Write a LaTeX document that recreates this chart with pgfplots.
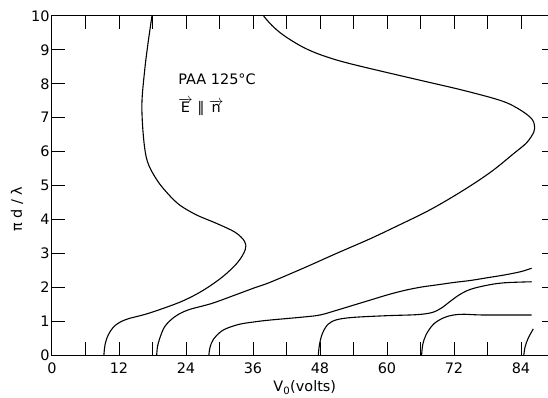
\documentclass[border=0pt]{standalone}
\usepackage{fontspec}
\setmainfont{DejaVu Sans}
\usepackage{pgfplots}
\pgfplotsset{compat=1.18}
\pgfplotsset{curve/.style={black, no markers, line width=1.1bp, smooth, tension=0.55}}
\begin{document}
\begin{tikzpicture}[font=\fontsize{14.5}{17}\selectfont]
\begin{axis}[name=ax, scale only axis, width=502.5bp, height=339bp,
  xmin=0, xmax=90, ymin=0, ymax=10,
  xtick={0,12,24,36,48,60,72,84},
  ytick={0,1,2,3,4,5,6,7,8,9,10},
  tick style={draw=none},
  axis line style={black, line width=1bp},
  /pgf/number format/assume math mode=true,
  xticklabel style={yshift=-4bp},
  yticklabel style={xshift=1bp},
  xlabel={V\textsubscript{0}(volts)},
  ylabel={π d / λ},
  every axis x label/.style={at={(axis description cs:0.503,0)}, anchor=north, yshift=-22bp},
  every axis y label/.style={at={(axis description cs:-0.0697,0.43)}, rotate=90, anchor=center},
]
% curve 1
\addplot[curve] coordinates {(9.3,0) (9.5,0.3) (10.1,0.6) (11.3,0.87) (13.3,1.05) (16.7,1.2) (20,1.38) (23.5,1.6) (27,1.9) (30.5,2.3) (33.2,2.72) (34.6,3.1) (34.5,3.35) (32.8,3.62) (29.5,3.88) (25.9,4.13) (22.9,4.42) (20.8,4.75) (18.8,5.16) (17.1,5.7) (16.4,6.4) (16.1,7.4) (16.6,8.4) (17.2,9.2) (17.9,10)};
% curve 2
\addplot[curve] coordinates {(18.75,0) (18.9,0.25) (19.3,0.49) (20.2,0.84) (22.0,1.13) (24.4,1.33) (28.6,1.52) (32.8,1.77) (36.4,1.99) (39.0,2.14) (45.0,2.56) (51.0,3.0) (57.0,3.43) (62.0,3.82) (67.1,4.23) (71.3,4.62) (75.5,5.05) (79.1,5.46) (82.6,5.93) (85.0,6.26) (86.3,6.58) (86.4,6.78) (86.0,6.95) (84.6,7.15) (82.0,7.4) (79.1,7.57) (73.1,7.83) (67.1,8.06) (61.1,8.29) (55.2,8.52) (51.0,8.7) (47.4,8.9) (44.5,9.12) (41.4,9.44) (39.4,9.72) (37.9,10)};
% curve 3
\addplot[curve] coordinates {(28.1,0) (28.3,0.22) (28.9,0.46) (30.6,0.73) (33.4,0.9) (36.4,0.98) (39.0,1.03) (45.0,1.12) (48,1.18) (51,1.32) (54,1.47) (57,1.62) (60,1.77) (63,1.9) (66,2.0) (69,2.07) (72,2.14) (75,2.2) (78,2.28) (81,2.36) (84,2.46) (85.9,2.56)};
% curve 4
\addplot[curve] coordinates {(47.7,0) (47.9,0.3) (48.4,0.62) (49.4,0.9) (51.0,1.04) (54,1.11) (60,1.16) (65.3,1.19) (68.0,1.25) (69.7,1.38) (71.3,1.58) (73,1.78) (75,1.94) (78,2.06) (81,2.13) (85.9,2.16)};
% curve 5
\addplot[curve] coordinates {(66.2,0) (66.4,0.3) (67.0,0.6) (68.4,0.92) (70.5,1.12) (73.1,1.2) (77.3,1.18) (85.9,1.18)};
% curve 6
\addplot[curve] coordinates {(84.5,0) (84.75,0.25) (85.3,0.5) (86.2,0.77)};
\node[anchor=base west, inner sep=0pt] at (axis cs:22.6,7.98) {PAA 125°C};
\node[anchor=base west, inner sep=0pt] at (axis cs:22.6,7.14) {$\overrightarrow{\mbox{E}}$ ∥ $\overrightarrow{\mbox{n}}$};
\end{axis}
% inward tick marks on all four sides
\foreach \i in {1,...,14} {
  \draw[line width=0.9bp] (ax.south west) ++(\i*33.5bp,0) -- ++(0,13bp);
  \draw[line width=0.9bp] (ax.north west) ++(\i*33.5bp,0) -- ++(0,-13bp);
}
\foreach \j in {1,...,9} {
  \draw[line width=0.9bp] (ax.south west) ++(0,\j*33.9bp) -- ++(13bp,0);
  \draw[line width=0.9bp] (ax.south east) ++(0,\j*33.9bp) -- ++(-13bp,0);
}
\pgfresetboundingbox
\path (ax.south west) ++(-52bp,-43bp) rectangle ++(548bp,398bp);
\end{tikzpicture}
\end{document}
